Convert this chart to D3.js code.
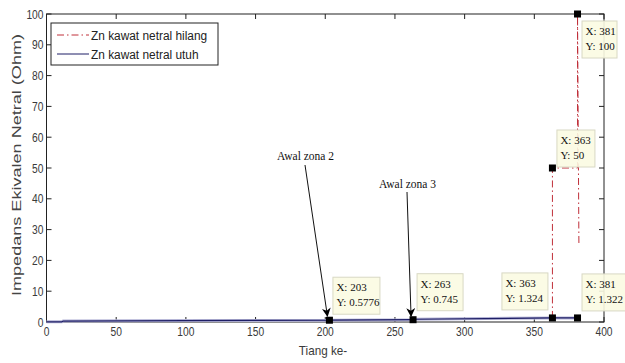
<!DOCTYPE html>
<html>
<head>
<meta charset="utf-8">
<script src="https://cdn.jsdelivr.net/npm/d3@7"></script>
<style>
  body { margin: 0; background: #fff; }
  svg { display: block; }
</style>
</head>
<body>
<svg id="chart" width="625" height="363"></svg>
<script>
// series: intact neutral (blue) and lost neutral (red)
const utuhX = [0, 11, 12, 100, 203, 204, 263, 264, 363, 381];
const utuhY = [0.05, 0.05, 0.3, 0.45, 0.5776, 0.6, 0.745, 0.9, 1.324, 1.322];
const hilangX = [363, 363, 381, 381, 382];
const hilangY = [1.324, 50, 50, 100, 25];

const legendLabels = ["Zn kawat netral hilang", "Zn kawat netral utuh"];
const xTicks = [0, 50, 100, 150, 200, 250, 300, 350, 400];
const yTicks = [0, 10, 20, 30, 40, 50, 60, 70, 80, 90, 100];

// data tips
const tipX = [203, 263, 363, 381, 363, 381];
const tipY = [0.5776, 0.745, 1.324, 1.322, 50, 100];
const tipText = [["X: 203", "Y: 0.5776"], ["X: 263", "Y: 0.745"], ["X: 363", "Y: 1.324"],
                 ["X: 381", "Y: 1.322"], ["X: 363", "Y: 50"], ["X: 381", "Y: 100"]];

const annoText = ["Awal zona 2", "Awal zona 3"];
const annoTarget = [203, 263];

let svg = d3.select("#chart");
let pLeft = 46.5, pRight = 604, pTop = 14, pBottom = 322;

let scaleX = d3.scaleLinear().domain([0, 400]).range([pLeft, pRight]);
let scaleY = d3.scaleLinear().domain([0, 100]).range([pBottom, pTop]);

let defs = svg.append("defs");
defs.append("marker")
    .attr("id", "arrow")
    .attr("viewBox", "0 0 10 10")
    .attr("refX", 9).attr("refY", 5)
    .attr("markerWidth", 9).attr("markerHeight", 9)
    .attr("markerUnits", "userSpaceOnUse")
    .attr("orient", "auto")
    .append("path")
    .attr("d", "M0,0 L10,5 L0,10 L3,5 Z")
    .attr("fill", "#000");

// axes box with inward ticks
svg.append("rect")
    .attr("x", pLeft).attr("y", pTop)
    .attr("width", pRight - pLeft).attr("height", pBottom - pTop)
    .attr("fill", "none").attr("stroke", "#222").attr("stroke-width", 1);

// tick labels are a bit tall and narrow in the original
function tickLabel(x, y, anchor, t) {
    svg.append("text")
        .attr("transform", "translate(" + x + "," + y + ") scale(0.82,1)")
        .attr("text-anchor", anchor)
        .attr("font-family", "Liberation Sans, Arial, sans-serif")
        .attr("font-size", "12.5px").attr("fill", "#3a3a3a")
        .text(t);
}

xTicks.forEach(t => {
    svg.append("line").attr("x1", scaleX(t)).attr("x2", scaleX(t))
        .attr("y1", pBottom).attr("y2", pBottom - 5).attr("stroke", "#222");
    svg.append("line").attr("x1", scaleX(t)).attr("x2", scaleX(t))
        .attr("y1", pTop).attr("y2", pTop + 5).attr("stroke", "#222");
    tickLabel(scaleX(t), pBottom + 14, "middle", t);
});
yTicks.forEach(t => {
    svg.append("line").attr("x1", pLeft).attr("x2", pLeft + 5)
        .attr("y1", scaleY(t)).attr("y2", scaleY(t)).attr("stroke", "#222");
    svg.append("line").attr("x1", pRight).attr("x2", pRight - 5)
        .attr("y1", scaleY(t)).attr("y2", scaleY(t)).attr("stroke", "#222");
    tickLabel(pLeft - 3, scaleY(t) + 4.5, "end", t);
});

// axis labels
svg.append("text")
    .attr("transform", "translate(323,355) scale(0.9,1)")
    .attr("text-anchor", "middle")
    .attr("font-family", "Liberation Sans, Arial, sans-serif")
    .attr("font-size", "13px").attr("fill", "#3a3a3a")
    .text("Tiang ke-");
svg.append("text")
    .attr("transform", "translate(21," + ((pTop + pBottom) / 2 - 3) + ") rotate(-90)")
    .attr("text-anchor", "middle")
    .attr("font-family", "Liberation Sans, Arial, sans-serif")
    .attr("font-size", "13.5px").attr("fill", "#444")
    .attr("textLength", 262)
    .attr("lengthAdjust", "spacingAndGlyphs")
    .text("Impedans Ekivalen Netral (Ohm)");

let line = d3.line()
    .x(d => scaleX(d[0]))
    .y(d => scaleY(d[1]));

let redData = hilangX.map((x, i) => [x, hilangY[i]]);
let blueData = utuhX.map((x, i) => [x, utuhY[i]]);

// blue line with a soft halo like the original
svg.append("path")
    .datum(blueData)
    .attr("fill", "none")
    .attr("stroke", "#b4b4d6")
    .attr("stroke-width", 3)
    .attr("d", line);
svg.append("path")
    .datum(blueData)
    .attr("fill", "none")
    .attr("stroke", "#1e1e66")
    .attr("stroke-width", 1.2)
    .attr("d", line);

svg.append("path")
    .datum(redData)
    .attr("fill", "none")
    .attr("stroke", "#c0303a")
    .attr("stroke-width", 1)
    .attr("stroke-dasharray", "7,3,1.5,3")
    .attr("d", line);

// data tip markers
tipX.forEach((x, i) => {
    svg.append("rect")
        .attr("x", scaleX(x) - 3.5).attr("y", scaleY(tipY[i]) - 3.5)
        .attr("width", 7).attr("height", 7)
        .attr("fill", "#000");
});

// data tip boxes (positioned relative to their points)
const tipDx = [3.5, 4, -50.5, 4.5, 4.5, 4.5];
const tipDy = [-43, -46, -45, -44, -38, 7];
const tipW = [47, 46, 46, 44, 38, 35];
tipX.forEach((x, i) => {
    let bx = scaleX(x) + tipDx[i], by = scaleY(tipY[i]) + tipDy[i];
    let g = svg.append("g");
    g.append("rect")
        .attr("x", bx).attr("y", by)
        .attr("width", tipW[i]).attr("height", 37)
        .attr("fill", "#fbfbe2").attr("fill-opacity", 0.9)
        .attr("stroke", "#d8d8c4").attr("stroke-width", 1);
    tipText[i].forEach((t, j) => {
        g.append("text")
            .attr("x", bx + 3.5).attr("y", by + 14 + j * 15)
            .attr("font-family", "Liberation Serif, Times New Roman, serif")
            .attr("font-size", "11px").attr("fill", "#111")
            .text(t);
    });
});

// annotations with arrows
const annoPos = [[277, 160], [379, 188]];
const annoStart = [[305, 165], [407, 192]];
annoText.forEach((t, i) => {
    svg.append("text")
        .attr("x", annoPos[i][0]).attr("y", annoPos[i][1])
        .attr("font-family", "Liberation Serif, Times New Roman, serif")
        .attr("font-size", "11.5px").attr("fill", "#111")
        .text(t);
    let tx = scaleX(annoTarget[i]) - 2, ty = scaleY(0.6) - 4;
    svg.append("line")
        .attr("x1", annoStart[i][0]).attr("y1", annoStart[i][1])
        .attr("x2", tx).attr("y2", ty)
        .attr("stroke", "#111").attr("stroke-width", 1)
        .attr("marker-end", "url(#arrow)");
});

// legend
let lg = svg.append("g");
lg.append("rect")
    .attr("x", 51).attr("y", 23).attr("width", 167).attr("height", 42)
    .attr("fill", "#fff").attr("stroke", "#222").attr("stroke-width", 1);
const legendColor = ["#c0303a", "#1e1e66"];
const legendDash = ["7,3,1.5,3", null];
legendLabels.forEach((lab, i) => {
    let y = 35 + i * 19;
    lg.append("line")
        .attr("x1", 57).attr("x2", 89).attr("y1", y).attr("y2", y)
        .attr("stroke", legendColor[i]).attr("stroke-width", 1)
        .attr("stroke-dasharray", legendDash[i]);
    lg.append("text")
        .attr("transform", "translate(91," + (y + 5) + ") scale(0.88,1)")
        .attr("font-family", "Liberation Sans, Arial, sans-serif")
        .attr("font-size", "13.5px").attr("fill", "#222")
        .text(lab);
});
</script>
</body>
</html>
